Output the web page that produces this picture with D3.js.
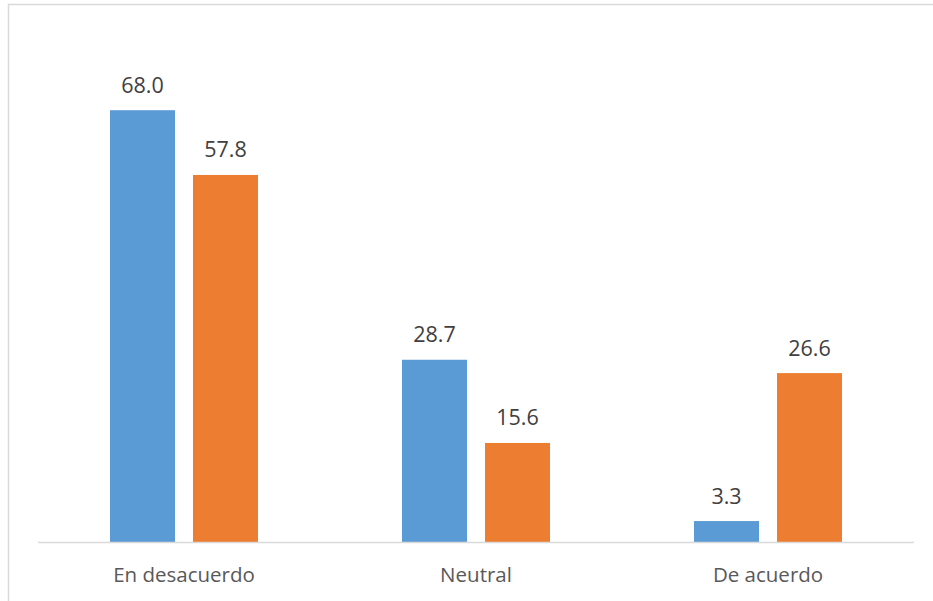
<!DOCTYPE html>
<html>
<head>
<meta charset="utf-8">
<script src="https://cdn.jsdelivr.net/npm/d3@7"></script>
<style>
  html, body { margin: 0; padding: 0; background: #ffffff; }
  svg { display: block; }
</style>
</head>
<body>
<svg id="chart" width="933" height="601"></svg>
<script>
const categories = ["En desacuerdo", "Neutral", "De acuerdo"];
const seriesNames = ["Serie 1", "Serie 2"];
const series1 = [68.0, 28.7, 3.3];
const series2 = [57.8, 15.6, 26.6];
const yDomain = [0, 80];

const colors = ["#5B9BD5", "#ED7D31"];
const W = 933, H = 601;
const plot = { left: 38, right: 914, top: 34, bottom: 542 };

const svg = d3.select("#chart");

// outer chart border
svg.append("rect")
  .attr("x", 8.5).attr("y", 4.5)
  .attr("width", 940).attr("height", 620)
  .attr("fill", "#ffffff")
  .attr("stroke", "#d9d9d9")
  .attr("stroke-width", 1.5);

const x = d3.scaleBand().domain(categories).range([plot.left, plot.right]).padding(0);
const xi = d3.scaleBand().domain(seriesNames)
  .range([72, x.bandwidth() - 72])
  .paddingInner(18 / 83).paddingOuter(0);
const y = d3.scaleLinear().domain(yDomain).range([plot.bottom, plot.top]);

const data = [];
categories.forEach((c, i) => {
  data.push({ cat: c, s: seriesNames[0], v: series1[i], k: 0 });
  data.push({ cat: c, s: seriesNames[1], v: series2[i], k: 1 });
});

svg.append("g").selectAll("rect")
  .data(data).join("rect")
  .attr("x", d => x(d.cat) + xi(d.s))
  .attr("y", d => y(d.v))
  .attr("width", xi.bandwidth())
  .attr("height", d => y(0) - y(d.v))
  .attr("fill", d => colors[d.k]);

// value labels
svg.append("g").selectAll("text")
  .data(data).join("text")
  .attr("x", d => x(d.cat) + xi(d.s) + xi.bandwidth() / 2)
  .attr("y", d => y(d.v) - 17.5)
  .attr("text-anchor", "middle")
  .attr("font-family", "'Open Sans', sans-serif")
  .attr("font-size", "21.5px")
  .attr("fill", "#404040")
  .text(d => d.v.toFixed(1));

// x axis
const xAxis = d3.axisBottom(x).tickSize(0).tickPadding(0);
const gx = svg.append("g").attr("transform", `translate(0,${plot.bottom})`).call(xAxis);
gx.select(".domain").attr("stroke", "#d9d9d9").attr("stroke-width", 1.3)
  .attr("d", `M${plot.left},0.5H${plot.right}`);
gx.selectAll(".tick text")
  .attr("dy", 0)
  .attr("y", 39.5)
  .attr("font-family", "'Open Sans', sans-serif")
  .attr("font-size", "20.5px")
  .attr("fill", "#595959");
</script>
</body>
</html>
